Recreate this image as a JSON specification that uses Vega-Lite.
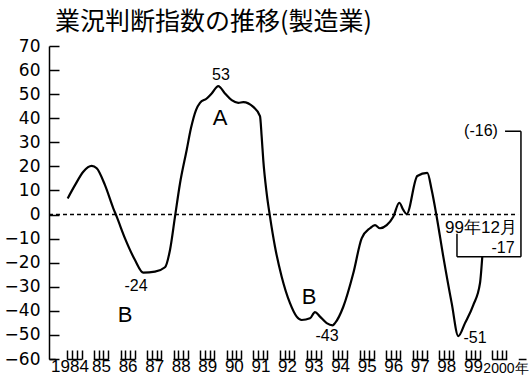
{
  "$schema": "https://vega.github.io/schema/vega-lite/v6.json",
  "autosize": {"type": "none"},
  "width": 477,
  "height": 313,
  "padding": {"left": 49, "top": 46, "right": 5, "bottom": 20},
  "background": "white",
  "config": {"view": {"stroke": null}},
  "title": {
    "text": "業況判断指数の推移(製造業)",
    "anchor": "start",
    "frame": "group",
    "font": "Noto Sans CJK JP",
    "fontSize": 25,
    "fontWeight": "normal",
    "color": "#000",
    "dx": 6,
    "offset": 2
  },
  "datasets": {
    "di": [
      {"t": 1983.744, "v": 6.7},
      {"t": 1984.019, "v": 12.2},
      {"t": 1984.331, "v": 17.8},
      {"t": 1984.648, "v": 20.2},
      {"t": 1984.836, "v": 19.2},
      {"t": 1985.148, "v": 12.2},
      {"t": 1985.461, "v": 2.6},
      {"t": 1985.589, "v": -0.9},
      {"t": 1985.901, "v": -9.9},
      {"t": 1986.278, "v": -18.9},
      {"t": 1986.59, "v": -24.1},
      {"t": 1987.031, "v": -23.7},
      {"t": 1987.407, "v": -21.9},
      {"t": 1987.596, "v": -14.7},
      {"t": 1987.784, "v": -0.9},
      {"t": 1987.972, "v": 12.9},
      {"t": 1988.224, "v": 26.8},
      {"t": 1988.386, "v": 35.9},
      {"t": 1988.575, "v": 43.4},
      {"t": 1988.725, "v": 46.4},
      {"t": 1988.978, "v": 48.2},
      {"t": 1989.166, "v": 50.3},
      {"t": 1989.414, "v": 53.3},
      {"t": 1989.666, "v": 50.3},
      {"t": 1989.919, "v": 47.5},
      {"t": 1990.167, "v": 46.4},
      {"t": 1990.355, "v": 46.7},
      {"t": 1990.732, "v": 44.7},
      {"t": 1990.984, "v": 40.9},
      {"t": 1991.048, "v": 32.3},
      {"t": 1991.108, "v": 22.6},
      {"t": 1991.236, "v": 8.8},
      {"t": 1991.361, "v": -0.9},
      {"t": 1991.549, "v": -13.4},
      {"t": 1991.801, "v": -25.8},
      {"t": 1992.114, "v": -36.8},
      {"t": 1992.366, "v": -42.4},
      {"t": 1992.554, "v": -43.8},
      {"t": 1992.867, "v": -43.1},
      {"t": 1993.055, "v": -40.5},
      {"t": 1993.243, "v": -42.4},
      {"t": 1993.496, "v": -45.1},
      {"t": 1993.722, "v": -46.0},
      {"t": 1993.808, "v": -45.1},
      {"t": 1994.121, "v": -38.3},
      {"t": 1994.497, "v": -24.4},
      {"t": 1994.813, "v": -9.9},
      {"t": 1995.126, "v": -5.7},
      {"t": 1995.314, "v": -4.4},
      {"t": 1995.502, "v": -5.7},
      {"t": 1995.755, "v": -4.4},
      {"t": 1996.003, "v": -0.9},
      {"t": 1996.229, "v": 4.9},
      {"t": 1996.38, "v": 1.9},
      {"t": 1996.508, "v": 0.2},
      {"t": 1996.907, "v": 16.0},
      {"t": 1997.283, "v": 17.3},
      {"t": 1997.449, "v": 10.2},
      {"t": 1997.637, "v": -0.9},
      {"t": 1997.886, "v": -17.5},
      {"t": 1998.202, "v": -36.8},
      {"t": 1998.451, "v": -50.5},
      {"t": 1998.703, "v": -45.1},
      {"t": 1999.015, "v": -37.6},
      {"t": 1999.268, "v": -28.5},
      {"t": 1999.354, "v": -17.5}
    ],
    "values": [
      {"t": 1989.516, "v": 57.9, "label": "53"},
      {"t": 1986.316, "v": -29.7, "label": "-24"},
      {"t": 1993.507, "v": -50.4, "label": "-43"},
      {"t": 1999.079, "v": -51.2, "label": "-51"},
      {"t": 2000.133, "v": -13.9, "label": "-17"},
      {"t": 1999.305, "v": 34.6, "label": "(-16)"}
    ],
    "phases": [
      {"t": 1989.478, "v": 40.2, "label": "A"},
      {"t": 1985.901, "v": -41.7, "label": "B"},
      {"t": 1992.829, "v": -34.2, "label": "B"}
    ],
    "dates": [
      {"t": 1999.305, "v": -5.6, "label": "99年12月"}
    ],
    "zero": [
      {"t": 1983.04, "t2": 2000.7, "v": 0, "v2": 0}
    ],
    "bracket": [
      {"t": 1998.401, "t2": 1998.401, "v": -8, "v2": -17.5},
      {"t": 1998.401, "t2": 2000.81, "v": -17.5, "v2": -17.5},
      {"t": 2000.81, "t2": 2000.81, "v": -17.5, "v2": 34.6},
      {"t": 2000.21, "t2": 2000.81, "v": 34.6, "v2": 34.6}
    ]
  },
  "encoding": {
    "x": {
      "field": "t",
      "type": "quantitative",
      "scale": {"domain": [1983.04, 2001.0], "nice": false, "zero": false},
      "axis": {
        "title": null,
        "grid": false,
        "values": [1983.736,1983.912,1984,1984.088,1984.264,1984.736,1984.912,1985,1985.088,1985.264,1985.736,1985.912,1986,1986.088,1986.264,1986.736,1986.912,1987,1987.088,1987.264,1987.736,1987.912,1988,1988.088,1988.264,1988.736,1988.912,1989,1989.088,1989.264,1989.736,1989.912,1990,1990.088,1990.264,1990.736,1990.912,1991,1991.088,1991.264,1991.736,1991.912,1992,1992.088,1992.264,1992.736,1992.912,1993,1993.088,1993.264,1993.736,1993.912,1994,1994.088,1994.264,1994.736,1994.912,1995,1995.088,1995.264,1995.736,1995.912,1996,1996.088,1996.264,1996.736,1996.912,1997,1997.088,1997.264,1997.736,1997.912,1998,1998.088,1998.264,1998.736,1998.912,1999,1999.088,1999.264,1999.736,1999.912,2000,2000.088,2000.264],
        "labelExpr": "datum.value == round(datum.value) ? (datum.value == 1984 ? '1984' : (datum.value == 2000 ? '2000年' : substring(toString(datum.value), 2, 4))) : ''",
        "labelOverlap": false,
        "labelFlush": false,
        "labelFont": "Liberation Sans",
        "labelFontSize": {"condition": {"test": "datum.value == 2000", "value": 14}, "value": 17},
        "labelOffset": {"condition": [{"test": "datum.value == 2000", "value": 6}, {"test": "datum.value == 1984", "value": -5}], "value": 0},
        "labelPadding": {"condition": {"test": "datum.value == 2000", "value": 11}, "value": 8.5},
        "labelColor": "#000",
        "labelBaseline": "top",
        "tickSize": -9,
        "tickWidth": 1.5,
        "tickColor": "#000",
        "tickOpacity": {"condition": {"test": "datum.value == round(datum.value)", "value": 0}, "value": 1},
        "domainColor": "#000",
        "domainWidth": 1.5,
        "domainDash": [15, 11.56],
        "domainDashOffset": 8.81
      }
    },
    "y": {
      "field": "v",
      "type": "quantitative",
      "scale": {"domain": [-60, 70], "nice": false, "zero": false},
      "axis": {
        "title": null,
        "grid": false,
        "values": [-60,-50,-40,-30,-20,-10,0,10,20,30,40,50,60,70],
        "labelOverlap": false,
        "labelFont": "DejaVu Sans",
        "labelFontSize": 17,
        "labelColor": "#000",
        "labelPadding": 19,
        "tickSize": -10,
        "tickWidth": 1.5,
        "tickColor": "#000",
        "domainColor": "#000",
        "domainWidth": 1.5
      }
    }
  },
  "layer": [
    {
      "data": {"name": "di"},
      "mark": {"type": "line", "color": "#000", "strokeWidth": 2.2, "interpolate": "monotone"}
    },
    {
      "data": {"name": "zero"},
      "mark": {"type": "rule", "color": "#000", "strokeWidth": 1.5, "strokeDash": [4, 3]},
      "encoding": {
        "x2": {"field": "t2"},
        "y2": {"field": "v2"}
      }
    },
    {
      "data": {"name": "values"},
      "mark": {"type": "text", "font": "Liberation Sans", "fontSize": 16, "color": "#000", "baseline": "middle", "align": "center"},
      "encoding": {"text": {"field": "label"}}
    },
    {
      "data": {"name": "phases"},
      "mark": {"type": "text", "font": "Liberation Sans", "fontSize": 22, "color": "#000", "baseline": "middle", "align": "center"},
      "encoding": {"text": {"field": "label"}}
    },
    {
      "data": {"name": "dates"},
      "mark": {"type": "text", "font": "Liberation Sans", "fontSize": 17, "color": "#000", "baseline": "middle", "align": "center"},
      "encoding": {"text": {"field": "label"}}
    },
    {
      "data": {"name": "bracket"},
      "mark": {"type": "rule", "color": "#000", "strokeWidth": 1.5},
      "encoding": {
        "x2": {"field": "t2"},
        "y2": {"field": "v2"}
      }
    }
  ]
}
